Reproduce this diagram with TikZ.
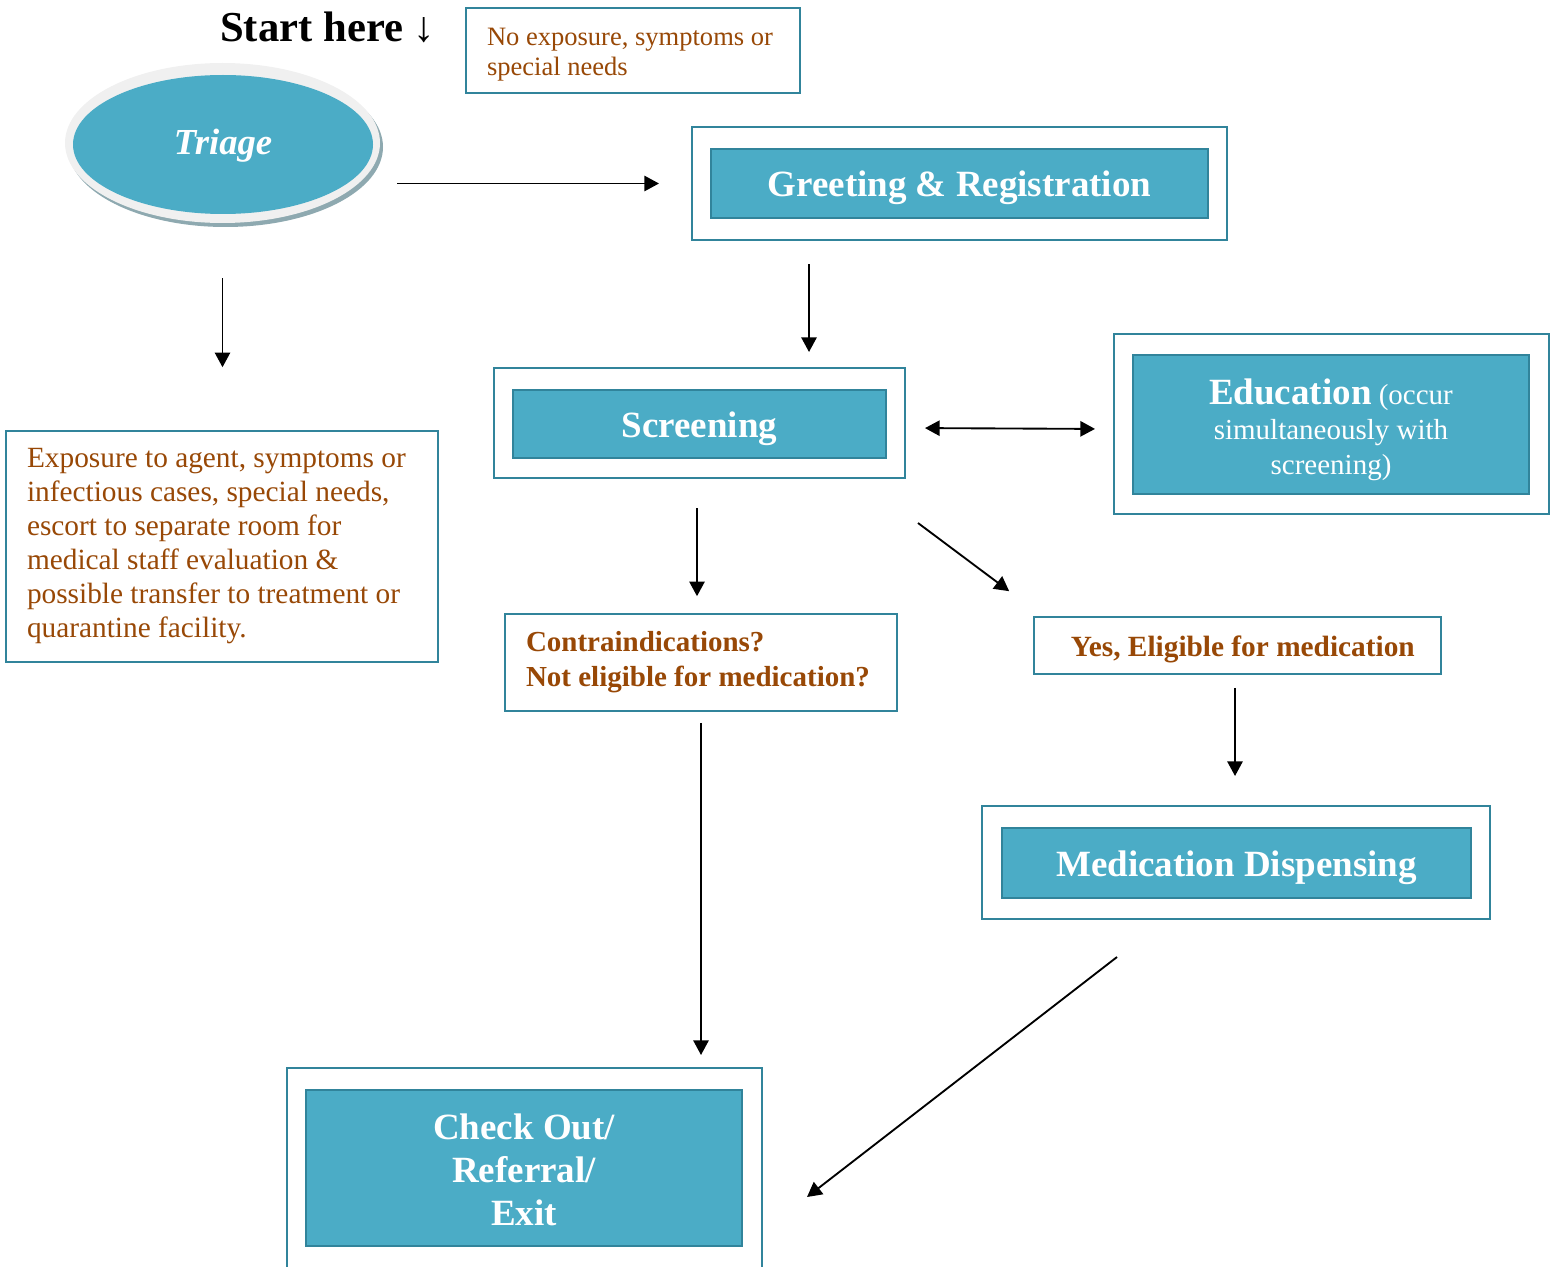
\documentclass[tikz,border=0pt]{standalone}
\usepackage{fontspec}
\setmainfont{Liberation Serif}
\usetikzlibrary{shapes.geometric,arrows.meta,calc}
\definecolor{tealfill}{HTML}{4BACC6}
\definecolor{tealdark}{HTML}{31849B}
\definecolor{brownt}{HTML}{984806}
\definecolor{ringgray}{HTML}{F0F0F0}
\definecolor{shadowgray}{HTML}{8EA9B0}
\tikzset{
  outerbox/.style={rectangle, draw=tealdark, line width=1.5pt, fill=white, inner sep=0pt},
  innerbox/.style={rectangle, draw=tealdark, line width=1.5pt, fill=tealfill, text=white, inner sep=0pt,
    align=center, font=\fontsize{27.75}{32.25}\selectfont\bfseries},
  onelinebox/.style={innerbox, text height=20pt, text depth=0pt},
  notebox/.style={rectangle, draw=tealdark, line width=1.2pt, fill=white, text=brownt, align=flush left, inner ysep=0pt},
  arr/.style={line width=1.4pt, -{Triangle[length=11pt,width=11.5pt]}},
  darr/.style={line width=1.4pt, {Triangle[length=11pt,width=11.5pt]}-{Triangle[length=11pt,width=11.5pt]}},
}
\begin{document}
\begin{tikzpicture}[x=0.75pt,y=-0.75pt]
\useasboundingbox (0,0) rectangle (1551,1266);

% Start here
\node[anchor=base west, inner sep=0pt, font=\fontsize{32}{36}\selectfont\bfseries] (start) at (220,42) {Start here ↓};

% Triage ellipse
\node[ellipse, fill=shadowgray, minimum width=236.25pt, minimum height=120pt, inner sep=0pt] (triageshadow) at (225.5,147) {};
\node[ellipse, fill=ringgray, minimum width=236.25pt, minimum height=120pt, inner sep=0pt] (triage) at (222.5,143) {};
\node[ellipse, fill=tealfill, minimum width=225pt, minimum height=104.25pt, inner sep=0pt,
  text height=21.7pt, text depth=6pt,
  text=white, font=\fontsize{27.5}{32}\selectfont\bfseries\itshape] (triagein) at (223,144.5) {Triage};

% No exposure note
\node[notebox, minimum width=250.5pt, minimum height=63.75pt, inner xsep=15.75pt, text width=219pt,
  font=\fontsize{19.9}{22.5}\selectfont] (noexp) at (633,50.5) {\rule{0pt}{19pt}\mbox{No exposure, symptoms or}\\\mbox{special needs}};

% Greeting & Registration
\node[outerbox, minimum width=401.25pt, minimum height=84.75pt] (greetout) at (959.5,183.5) {};
\node[onelinebox, minimum width=372.75pt, minimum height=51.75pt] (greet) at (959.5,183.5) {Greeting \& Registration};

% Screening
\node[outerbox, minimum width=308.25pt, minimum height=82.5pt] (screenout) at (699.5,423) {};
\node[onelinebox, minimum width=279.75pt, minimum height=51pt] (screen) at (699.5,424) {Screening};

% Education
\node[outerbox, minimum width=326.25pt, minimum height=135pt] (eduout) at (1331.5,424) {};
\node[innerbox, minimum width=297pt, minimum height=104.25pt, font=\fontsize{21.75}{26.25}\selectfont] (edu) at (1331,424.5)
  {\rule{0pt}{26.5pt}{\fontsize{27.75}{32}\selectfont\bfseries Education} (occur\\simultaneously with\\screening)};

% Exposure note
\node[notebox, minimum width=324pt, minimum height=173.25pt, inner xsep=15.75pt, text width=292.5pt,
  font=\fontsize{22}{25.5}\selectfont] (expo) at (222,546.5)
  {\mbox{Exposure to agent, symptoms or}\\\mbox{infectious cases, special needs,}\\\mbox{escort to separate room for}\\\mbox{medical staff evaluation \&}\\\mbox{possible transfer to treatment or}\\\mbox{quarantine facility.}};

% Contraindications
\node[notebox, minimum width=294pt, minimum height=72.75pt, inner xsep=15.75pt, text width=262.5pt,
  font=\fontsize{21.75}{26.25}\selectfont\bfseries] (contra) at (701,662.5)
  {\mbox{Contraindications?}\\\mbox{Not eligible for medication?}};

% Yes eligible
\node[notebox, align=center, minimum width=305.25pt, minimum height=42.75pt, inner xsep=0pt,
  text height=16pt, text depth=0pt,
  font=\fontsize{22}{26.25}\selectfont\bfseries] (yes) at (1237.5,645.5) {\hspace{8pt}Yes, Eligible for medication};

% Medication Dispensing
\node[outerbox, minimum width=381pt, minimum height=84.75pt] (medout) at (1236,862.5) {};
\node[onelinebox, minimum width=351.75pt, minimum height=52.5pt] (med) at (1236.5,863) {Medication Dispensing};

% Check Out
\node[outerbox, minimum width=356.25pt, minimum height=150pt] (checkout) at (524.5,1168) {};
\node[innerbox, minimum width=327pt, minimum height=117pt] (check) at (524,1168) {\rule{0pt}{22pt}Check Out/\\Referral/\\Exit};

% Connectors
\draw[arr, shorten <=12.75pt, shorten >=24pt] (triage.east |- greetout.west) -- (greetout.west);
\draw[arr, shorten <=41.25pt, shorten >=47.25pt] (triage.south) -- (triage.south |- expo.north);
\draw[arr, shorten <=17.25pt, shorten >=11.25pt] ([xshift=-112.875pt]greetout.south) -- ([xshift=-112.875pt]greetout.south |- screenout.north);
\draw[darr, shorten <=14.25pt, shorten >=13.5pt] ([yshift=-3.75pt]screenout.east) -- ([yshift=-3.75pt]eduout.west);
\draw[arr, shorten <=21.75pt, shorten >=12.75pt] ([xshift=-1.875pt]screenout.south) -- ([xshift=-1.875pt]screenout.south |- contra.north);
\draw[arr] ([shift={(9pt,-33pt)}]screenout.south east) -- ([shift={(-18pt,18.75pt)}]yes.north west);
\draw[arr, shorten <=8.25pt, shorten >=9pt] (contra.south) -- (contra.south |- checkout.north);
\draw[arr, shorten <=9.75pt, shorten >=21.75pt] ([xshift=-1.875pt]yes.south) -- ([xshift=-1.875pt]yes.south |- medout.north);
\draw[arr] ([shift={(-89.25pt,-27.75pt)}]medout.south) -- ([shift={(33pt,-21.75pt)}]checkout.east);
\end{tikzpicture}
\end{document}
